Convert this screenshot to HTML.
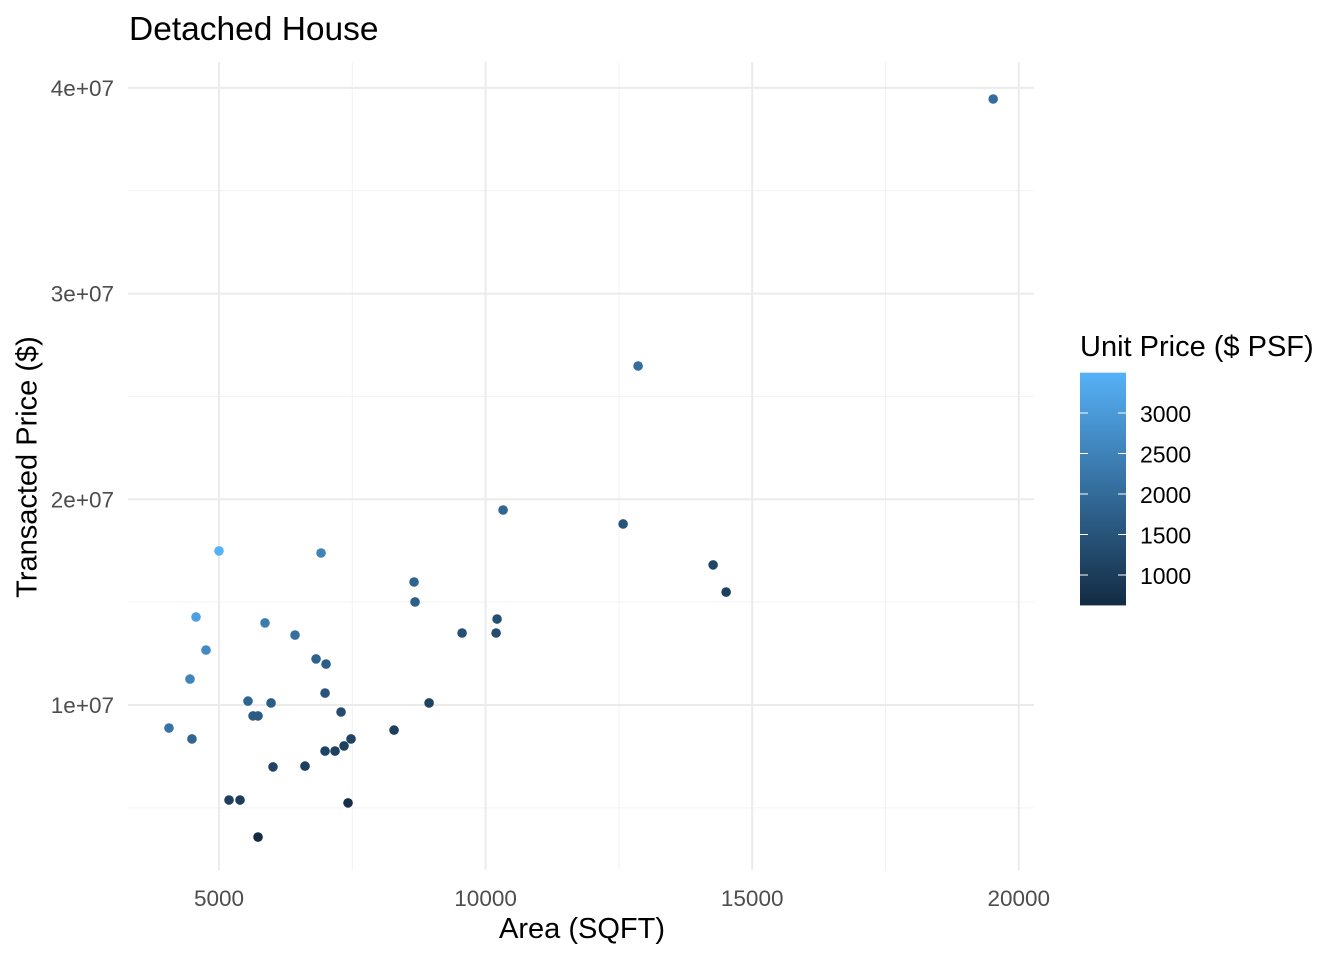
<!DOCTYPE html>
<html><head><meta charset="utf-8"><style>
body{margin:0;background:#fff;}
svg{display:block;font-family:"Liberation Sans",Arial,sans-serif;}
</style></head><body>
<svg id="c" width="1344" height="960"></svg>
<script>
const areas=[19520,12860,10328,12579,14267,14511,10215,10197,9559,5000,6914,8658,8677,4569,5863,6426,4756,4456,6820,7007,6989,5544,5976,5638,5732,4062,4493,7289,8940,8283,6989,7176,7345,7476,6013,6613,5188,5394,7420,5732];
const prices=[39.46,26.48,19.48,18.80,16.81,15.49,14.18,13.50,13.50,17.49,17.39,15.98,15.01,14.28,13.99,13.40,12.67,11.26,12.24,11.99,10.58,10.19,10.10,9.47,9.47,8.88,8.35,9.66,10.10,8.78,7.76,7.76,8.01,8.35,6.99,7.03,5.38,5.38,5.24,3.58];
const xTicks=[5000,10000,15000,20000];
const xMinor=[7500,12500,17500];
const yTicks=[10,20,30,40];
const yTickLabels=["1e+07","2e+07","3e+07","4e+07"];
const yMinor=[5,15,25,35];
const legendTicks=[1000,1500,2000,2500,3000];

const svg=document.getElementById('c');
const NS='http://www.w3.org/2000/svg';
const L=128,R=1034,T=62,B=870;
const x=v=>219+(v-5000)*0.05332;
const y=v=>705-(v-10)*20.57;
function mk(t,a,p){const e=document.createElementNS(NS,t);for(const k in a)e.setAttribute(k,a[k]);(p||svg).appendChild(e);return e;}
const low=[19,43,67],high=[86,177,247];
const units=areas.map((a,i)=>prices[i]*1e6/a);
const umin=Math.min(...units),umax=Math.max(...units);
function col(u){const t=(u-umin)/(umax-umin);return 'rgb('+low.map((l,i)=>Math.round(l+(high[i]-l)*t)).join(',')+')';}

const grid=mk('g',{});


xMinor.forEach(v=>mk('line',{x1:x(v),x2:x(v),y1:T,y2:B,stroke:'#F2F2F2','stroke-width':1},grid));
yMinor.forEach(v=>mk('line',{x1:L,x2:R,y1:y(v),y2:y(v),stroke:'#F2F2F2','stroke-width':1},grid));
xTicks.forEach(v=>mk('line',{x1:x(v),x2:x(v),y1:T,y2:B,stroke:'#EBEBEB','stroke-width':2},grid));
yTicks.forEach(v=>mk('line',{x1:L,x2:R,y1:y(v),y2:y(v),stroke:'#EBEBEB','stroke-width':2},grid));

xTicks.forEach(v=>{const t=mk('text',{x:x(v),y:906,'text-anchor':'middle','font-size':22.5,fill:'#4D4D4D'});t.textContent=v;
});
yTicks.forEach((v,i)=>{const t=mk('text',{x:114,y:y(v)+8,'text-anchor':'end','font-size':22.5,fill:'#4D4D4D'});t.textContent=yTickLabels[i];
});

const pts=mk('g',{});


areas.forEach((a,i)=>{const c=mk('circle',{cx:x(a),cy:y(prices[i]),r:4.8,fill:col(units[i])},pts);
});

const defs=mk('defs',{});
const lg=mk('linearGradient',{id:'g',x1:0,y1:1,x2:0,y2:0},defs);
mk('stop',{offset:0,'stop-color':'rgb(19,43,67)'},lg);mk('stop',{offset:1,'stop-color':'rgb(86,177,247)'},lg);
const ly=u=>575-(u-1000)*0.081;
const bar=mk('rect',{x:1080,y:ly(umax),width:46,height:ly(umin)-ly(umax),fill:'url(#g)'});

legendTicks.forEach(v=>{mk('line',{x1:1080,x2:1088,y1:ly(v),y2:ly(v),stroke:'#fff','stroke-width':1});
mk('line',{x1:1118,x2:1126,y1:ly(v),y2:ly(v),stroke:'#fff','stroke-width':1});
const t=mk('text',{x:1140,y:ly(v)+9,'font-size':23,fill:'#000'});t.textContent=v;
});
</script>
<div style="position:absolute;left:0;top:0;width:1344px;height:960px;pointer-events:none;font-family:'Liberation Sans',Arial,sans-serif;">
<div style="position:absolute;left:129px;top:11px;font-size:33.5px;color:#000;white-space:nowrap;">Detached House</div>
<div style="position:absolute;left:432px;width:300px;text-align:center;top:913px;font-size:29px;color:#000;">Area (SQFT)</div>
<div style="position:absolute;left:28px;top:467px;font-size:29px;color:#000;transform:translate(-50%,-50%) rotate(-90deg);white-space:nowrap;">Transacted Price ($)</div>
<div style="position:absolute;left:1080px;top:331px;font-size:29px;color:#000;white-space:nowrap;">Unit Price ($ PSF)</div>
</div>
</body></html>
